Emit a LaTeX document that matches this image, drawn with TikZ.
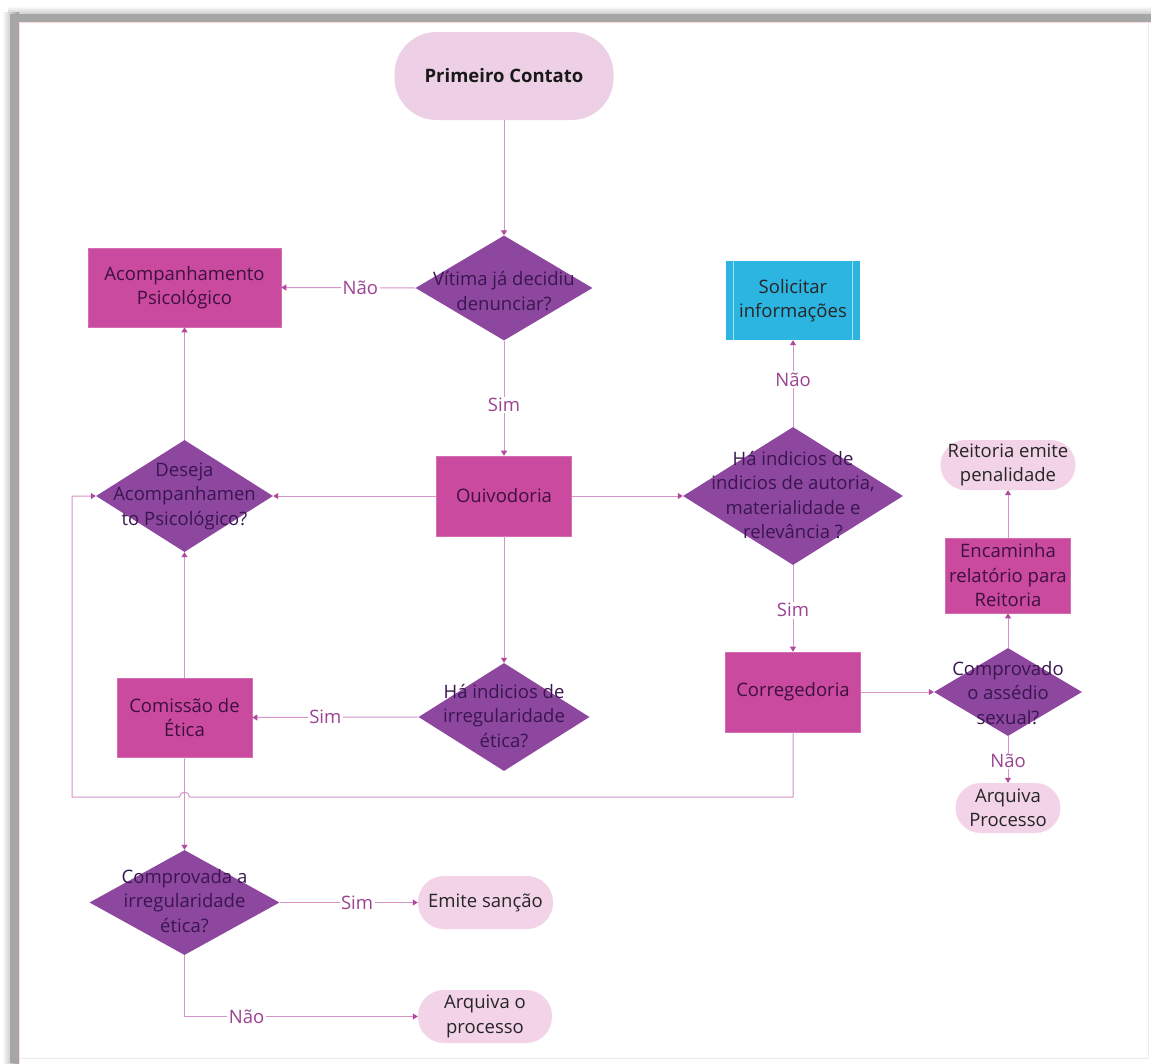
\documentclass[tikz,border=0pt]{standalone}
\usepackage{fontspec}
\setmainfont{Open Sans}
\usetikzlibrary{shapes.geometric,arrows.meta}
\definecolor{rectfill}{HTML}{C94A9E}
\definecolor{diafill}{HTML}{8D479F}
\definecolor{pillfill}{HTML}{F2D3E8}
\definecolor{pcfill}{HTML}{EDD0E5}
\definecolor{cyanfill}{HTML}{2DB5E2}
\definecolor{cyanline}{HTML}{A8E0F2}
\definecolor{linec}{HTML}{D693C8}
\definecolor{tipc}{HTML}{B04AA0}
\definecolor{labc}{HTML}{9B4290}
\definecolor{rtext}{HTML}{3E103E}
\definecolor{dtext}{HTML}{3A1650}
\tikzset{
  base/.style={inner sep=0pt, font=\fontsize{18.5}{24.5}\selectfont, align=center},
  procbox/.style={base, rectangle, fill=rectfill, draw=rectfill!80!white, line width=0.6pt, text=rtext},
  decbox/.style={base, diamond, fill=diafill, draw=none},
  dectext/.style={base, text=dtext},
  pillbox/.style={base, rectangle, rounded corners=25pt, fill=pillfill, text=black!85},
  cyanbox/.style={base, rectangle, fill=cyanfill, text=black!85},
  conn/.style={draw=linec, line width=1pt, -{Triangle[width=6pt,length=5pt,color=tipc]}},
  elab/.style={fill=white, text=labc, inner sep=1.5pt, font=\fontsize{18.5}{20}\selectfont}
}
\begin{document}
\begin{tikzpicture}[x=1pt,y=-1pt]
\useasboundingbox (0,0) rectangle (1151,1063);
\fill[white] (0,0) rectangle (1151,1063);
% frame shadow
\shade[top color=white, bottom color=black!40] (8,6) rectangle (1151,22);
\shade[left color=white, right color=black!40] (2,12) rectangle (19,1063);
\fill[black!35] (10,14) rectangle (19,1063);
\fill[black!35] (10,14) rectangle (1151,22);
\fill[white] (19,22) rectangle (1148,1058);
\draw[pink!60, line width=0.5pt] (19,1063) -- (19,22) -- (1151,22);
\draw[black!8, line width=0.8pt] (1148.5,22) -- (1148.5,1058.5) -- (19,1058.5);

% nodes
\node[base, rectangle, rounded corners=42pt, fill=pcfill, minimum width=219pt, minimum height=88pt, font=\fontsize{18.5}{22}\selectfont\bfseries, text=black!90] (pc) at (504,76) {Primeiro Contato};

\node[decbox, minimum width=177pt, minimum height=105pt] (vit) at (504,288) {};
\node[dectext] (vitt) at (504,291) {Vítima já decidiu\\denunciar?};

\node[procbox, minimum width=193pt, minimum height=79pt] (acp) at (184.5,287.5) {Acompanhamento\\Psicológico};

\node[procbox, minimum width=135pt, minimum height=80pt] (ouv) at (504,496) {Ouivodoria};

\node[decbox, minimum width=177pt, minimum height=112pt] (des) at (184.5,496) {};
\node[dectext] (dest) at (184.5,496) {Deseja\\Acompanhamen\\to Psicológico?};

\node[cyanbox, minimum width=134pt, minimum height=79pt] (sol) at (793,300.5) {Solicitar\\informações};
\draw[cyanline, line width=1pt] ([xshift=8pt]sol.north west) -- ([xshift=8pt]sol.south west);
\draw[cyanline, line width=1pt] ([xshift=-8pt]sol.north east) -- ([xshift=-8pt]sol.south east);

\node[decbox, minimum width=220pt, minimum height=138pt] (hai) at (793,496) {};
\node[dectext] (hait) at (793,495) {Há indicios de\\indicios de autoria,\\materialidade e\\relevância ?};

\node[procbox, minimum width=135pt, minimum height=80pt] (cor) at (793,692) {Corregedoria};

\node[decbox, minimum width=148pt, minimum height=88pt] (cas) at (1008,692) {};
\node[dectext] (cast) at (1008,693) {Comprovado\\o assédio\\sexual?};

\node[procbox, minimum width=125pt, minimum height=75pt] (enc) at (1008,575.5) {Encaminha\\relatório para\\Reitoria};

\node[pillbox, minimum width=135pt, minimum height=50pt] (rei) at (1008,465) {Reitoria emite\\penalidade};

\node[pillbox, minimum width=105pt, minimum height=50pt] (arp) at (1008,808) {Arquiva\\Processo};

\node[decbox, minimum width=171pt, minimum height=108pt] (hie) at (504,717) {};
\node[dectext] (hiet) at (504,716) {Há indicios de\\irregularidade\\ética?};

\node[procbox, minimum width=135pt, minimum height=79pt] (com) at (184.5,717.5) {Comissão de\\Ética};

\node[decbox, minimum width=190pt, minimum height=105pt] (cai) at (184.5,902.5) {};
\node[dectext] (cait) at (184.5,901) {Comprovada a\\irregularidade\\ética?};

\node[pillbox, minimum width=135pt, minimum height=53pt, rounded corners=26pt] (ems) at (485.5,902.5) {Emite sanção};

\node[pillbox, minimum width=134pt, minimum height=53pt, rounded corners=26pt] (aro) at (485,1016.5) {Arquiva o\\processo};

% loop corner coordinates
\coordinate (l1) at (793,797);
\coordinate (h1) at (189.5,797);
\coordinate (l2) at (72,797);

% connectors
\draw[conn] (pc.south) -- (vit.north);
\draw[conn] (vit.west) -- node[elab, pos=0.41] {Não} (acp.east);
\draw[conn] (vit.south) -- node[elab, pos=0.56] {Sim} (ouv.north);
\draw[conn] (ouv.west) -- (des.east);
\draw[conn] (des.north) -- (acp.south);
\draw[conn] (ouv.east) -- (hai.west);
\draw[conn] (hai.north) -- node[elab, pos=0.545] {Não} (sol.south);
\draw[conn] (hai.south) -- node[elab, pos=0.52] {Sim} (cor.north);
\draw[conn] (cor.east) -- (cas.west);
\draw[conn] (cas.north) -- (enc.south);
\draw[conn] (enc.north) -- (rei.south);
\draw[conn] (cas.south) -- node[elab, pos=0.53] {Não} (arp.north);
\draw[conn] (ouv.south) -- (hie.north);
\draw[conn] (hie.west) -- node[elab, pos=0.56] {Sim} (com.east);
\draw[conn] (com.north) -- (des.south);
\draw[conn] (cor.south) -- (l1) -- (h1) arc[start angle=0, end angle=180, radius=5pt] -- (l2) |- (des.west);
\draw[conn] (com.south) -- (cai.north);
\draw[conn] (cai.east) -- node[elab, pos=0.56] {Sim} (ems.west);
\draw[conn] (cai.south) |- node[elab, pos=0.633] {Não} (aro.west);
\end{tikzpicture}
\end{document}
